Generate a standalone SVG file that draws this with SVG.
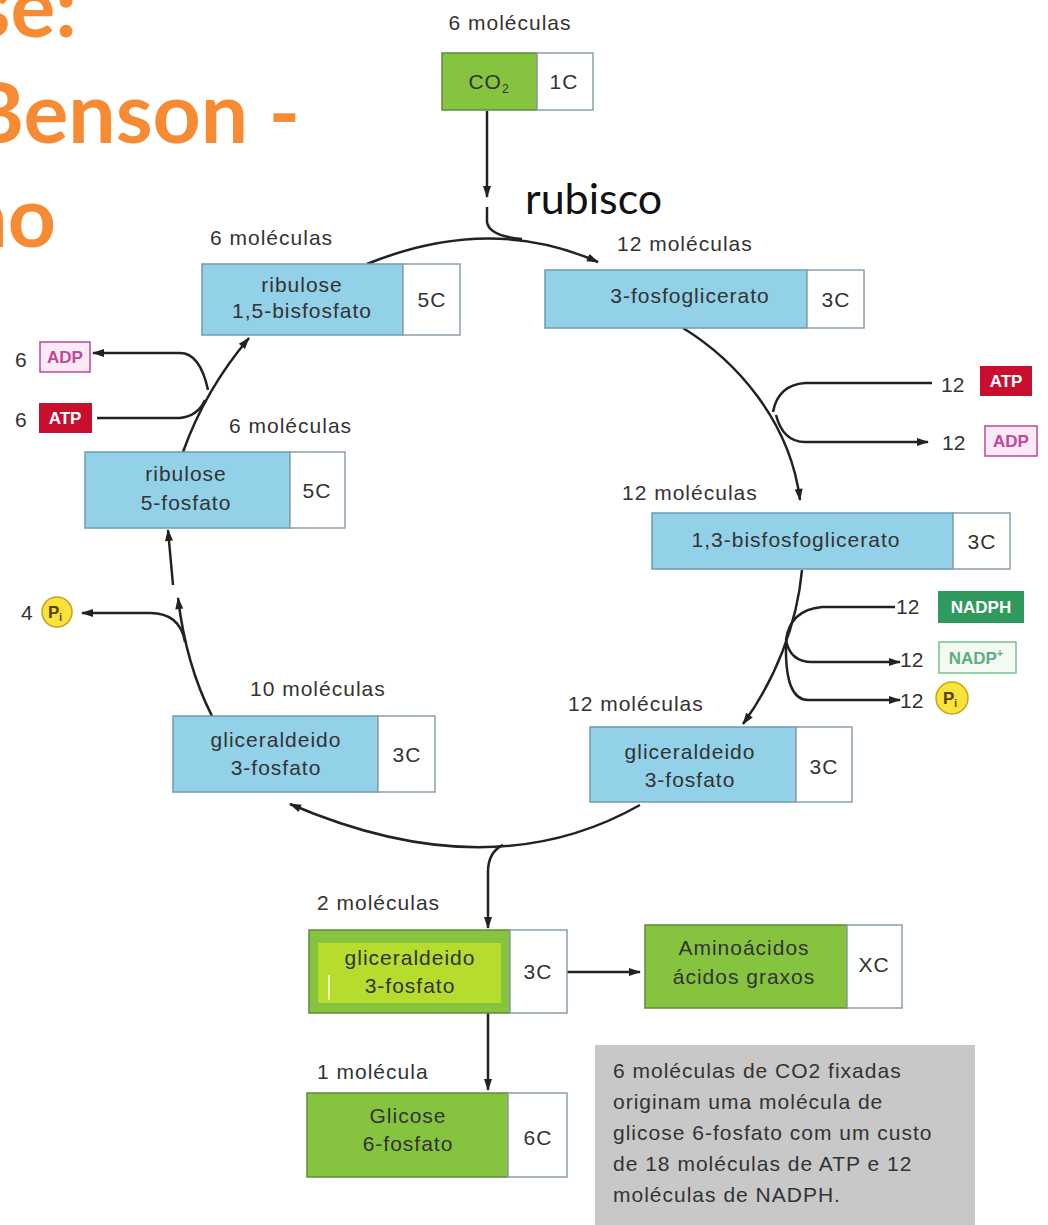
<svg xmlns="http://www.w3.org/2000/svg" width="1048" height="1225" viewBox="0 0 1048 1225">
<defs>
<style>
.t{font-family:"Liberation Sans",Arial,sans-serif;font-size:21px;fill:#333;letter-spacing:1px}
.c{text-anchor:middle}
.title{font-family:Lato,"Open Sans",sans-serif;font-weight:bold;font-size:84px;fill:#F68B33;text-anchor:end}
.blue{fill:#92d1e8;stroke:#6a9db2;stroke-width:1.5}
.green{fill:#86c440;stroke:#5e8c37;stroke-width:1.5}
.white{fill:#fff;stroke:#8aa0aa;stroke-width:1.5}
.ln{fill:none;stroke:#222;stroke-width:2.5}
.arr{marker-end:url(#ah)}
.tag{font-family:"Liberation Sans",Arial,sans-serif;font-weight:bold;font-size:17px;text-anchor:middle}
.pi{fill:#f7e33a;stroke:#c9a31a;stroke-width:1.5}
.n{font-family:"Liberation Sans",Arial,sans-serif;font-size:21px;fill:#333}
</style>
<marker id="ah" viewBox="0 0 12 10" refX="11" refY="5" markerWidth="13" markerHeight="10" markerUnits="userSpaceOnUse" orient="auto">
<path d="M0,1 L12,5 L0,9 z" fill="#222"/>
</marker>
</defs>
<rect width="1048" height="1225" fill="#fff"/>

<g id="title">
<text class="title" x="77" y="37">se:</text>
<text class="title" x="300" y="143">Benson -</text>
<text class="title" x="56" y="247">no</text>
</g>
<text id="rubisco" x="525" y="214" font-family="Lato,'Open Sans',sans-serif" font-size="43" fill="#111">rubisco</text>

<g id="connectors">
<path class="ln arr" d="M487,111 L487,197"/>
<path class="ln" d="M487,207 L487,222 Q489,236 522,239"/>
<path class="ln arr" d="M367,264 Q490,214 598,262"/>
<path class="ln arr" d="M683,328 C735,360 790,420 800,500"/>
<path class="ln" d="M932,383 L805,383 Q778,385 773,412"/>
<path class="ln arr" d="M776,415 Q783,442 805,442 L928,442"/>
<path class="ln arr" d="M802,570 C797,625 775,680 743,724"/>
<path class="ln" d="M895,607 L822,607 Q790,610 786,640"/>
<path class="ln arr" d="M786,640 Q790,662 812,662 L900,662"/>
<path class="ln arr" d="M786,645 Q785,700 808,700 L900,700"/>
<path class="ln arr" d="M640,805 Q490,890 290,804"/>
<path class="ln arr" d="M503,845 Q488,852 488,872 L488,928"/>
<path class="ln arr" d="M212,716 Q186,665 178,598"/>
<path class="ln arr" d="M173,585 L168,530"/>
<path class="ln arr" d="M185,642 Q180,613 150,613 L82,613"/>
<path class="ln arr" d="M183,452 Q205,390 249,338"/>
<path class="ln arr" d="M208,390 Q200,353 180,353 L93,353"/>
<path class="ln" d="M97,418 L180,418 Q198,416 205,400"/>
<path class="ln arr" d="M488,1013 L488,1090"/>
<path class="ln arr" d="M567,972 L640,972"/>
</g>

<g id="co2">
<text class="t c" x="510" y="30">6 moléculas</text>
<rect class="green" x="442" y="53" width="95" height="57"/>
<rect class="white" x="537" y="53" width="56" height="57"/>
<text class="t c" x="489" y="89" font-size="18">CO<tspan font-size="12" dy="4">2</tspan></text>
<text class="t c" x="564" y="89" font-size="18">1C</text>
</g>

<g id="rubp">
<text class="t" x="210" y="245">6 moléculas</text>
<rect class="blue" x="202" y="264" width="201" height="71"/>
<rect class="white" x="403" y="264" width="57" height="71"/>
<text class="t c" x="302" y="292">ribulose</text>
<text class="t c" x="302" y="318">1,5-bisfosfato</text>
<text class="t c" x="432" y="307" font-size="19">5C</text>
</g>

<g id="pga">
<text class="t" x="617" y="251">12 moléculas</text>
<rect class="blue" x="545" y="270" width="262" height="58"/>
<rect class="white" x="807" y="270" width="57" height="58"/>
<text class="t c" x="690" y="303">3-fosfoglicerato</text>
<text class="t c" x="836" y="307" font-size="19">3C</text>
</g>

<g id="ru5p">
<text class="t" x="229" y="433">6 moléculas</text>
<rect class="blue" x="85" y="452" width="205" height="76"/>
<rect class="white" x="290" y="452" width="55" height="76"/>
<text class="t c" x="186" y="481">ribulose</text>
<text class="t c" x="186" y="510">5-fosfato</text>
<text class="t c" x="317" y="498" font-size="19">5C</text>
</g>

<g id="bpg">
<text class="t" x="622" y="500">12 moléculas</text>
<rect class="blue" x="652" y="513" width="301" height="56"/>
<rect class="white" x="953" y="513" width="57" height="56"/>
<text class="t c" x="796" y="547">1,3-bisfosfoglicerato</text>
<text class="t c" x="982" y="549" font-size="19">3C</text>
</g>

<g id="g3p-left">
<text class="t" x="250" y="696">10 moléculas</text>
<rect class="blue" x="173" y="716" width="205" height="76"/>
<rect class="white" x="378" y="716" width="57" height="76"/>
<text class="t c" x="276" y="747">gliceraldeido</text>
<text class="t c" x="276" y="775">3-fosfato</text>
<text class="t c" x="407" y="762" font-size="19">3C</text>
</g>

<g id="g3p-right">
<text class="t" x="568" y="711">12 moléculas</text>
<rect class="blue" x="590" y="727" width="206" height="75"/>
<rect class="white" x="796" y="727" width="56" height="75"/>
<text class="t c" x="690" y="759">gliceraldeido</text>
<text class="t c" x="690" y="787">3-fosfato</text>
<text class="t c" x="824" y="774" font-size="19">3C</text>
</g>

<g id="g3p-out">
<text class="t" x="317" y="910">2 moléculas</text>
<rect class="green" x="309" y="930" width="201" height="83"/>
<rect x="318" y="943" width="183" height="60" fill="#b6dc2e"/>
<line x1="329" y1="975" x2="329" y2="1000" stroke="#f0f6b0" stroke-width="2"/>
<rect class="white" x="510" y="930" width="57" height="83"/>
<text class="t c" x="410" y="965">gliceraldeido</text>
<text class="t c" x="410" y="993">3-fosfato</text>
<text class="t c" x="538" y="979" font-size="19">3C</text>
</g>

<g id="amino">
<rect class="green" x="645" y="925" width="202" height="83"/>
<rect class="white" x="847" y="925" width="55" height="83"/>
<text class="t c" x="744" y="955">Aminoácidos</text>
<text class="t c" x="744" y="984">ácidos graxos</text>
<text class="t c" x="874" y="972" font-size="20">XC</text>
</g>

<g id="glicose">
<text class="t" x="317" y="1079">1 molécula</text>
<rect class="green" x="307" y="1093" width="201" height="84"/>
<rect class="white" x="508" y="1093" width="59" height="84"/>
<text class="t c" x="408" y="1123">Glicose</text>
<text class="t c" x="408" y="1151">6-fosfato</text>
<text class="t c" x="538" y="1145" font-size="20">6C</text>
</g>

<g id="note">
<rect x="595" y="1045" width="380" height="185" fill="#c8c8c8"/>
<text class="t" x="613" y="1078" font-size="19">6 moléculas de CO2 fixadas</text>
<text class="t" x="613" y="1109" font-size="19">originam uma molécula de</text>
<text class="t" x="613" y="1140" font-size="19">glicose 6-fosfato com um custo</text>
<text class="t" x="613" y="1171" font-size="19">de 18 moléculas de ATP e 12</text>
<text class="t" x="613" y="1202" font-size="19">moléculas de NADPH.</text>
</g>

<g id="adp-left">
<text class="n" x="15" y="367">6</text>
<rect x="40" y="342" width="50" height="30" fill="#fbeaf5" stroke="#c0479a" stroke-width="1.5"/>
<text class="tag" x="65" y="363" fill="#c0479a">ADP</text>
</g>
<g id="atp-left">
<text class="n" x="15" y="427">6</text>
<rect x="39" y="403" width="53" height="30" fill="#c8102e"/>
<text class="tag" x="65" y="424" fill="#fff">ATP</text>
</g>
<g id="pi-left">
<text class="n" x="21" y="620">4</text>
<circle class="pi" cx="57" cy="612" r="15"/>
<text class="tag" x="55" y="618" fill="#5a4000" font-size="16">P<tspan font-size="10" dy="3">i</tspan></text>
</g>

<g id="atp-right">
<text class="n" x="941" y="392">12</text>
<rect x="980" y="366" width="52" height="30" fill="#c8102e"/>
<text class="tag" x="1006" y="387" fill="#fff">ATP</text>
</g>
<g id="adp-right">
<text class="n" x="942" y="450">12</text>
<rect x="985" y="426" width="52" height="30" fill="#fbeaf5" stroke="#c0479a" stroke-width="1.5"/>
<text class="tag" x="1011" y="447" fill="#c0479a">ADP</text>
</g>
<g id="nadph">
<text class="n" x="896" y="614">12</text>
<rect x="938" y="591" width="86" height="32" fill="#2f9a5e"/>
<text class="tag" x="981" y="613" fill="#fff">NADPH</text>
</g>
<g id="nadp">
<text class="n" x="900" y="667">12</text>
<rect x="939" y="642" width="77" height="31" fill="#f2faf2" stroke="#7cbf92" stroke-width="1.5"/>
<text class="tag" x="976" y="664" fill="#5fae7e">NADP<tspan font-size="11" dy="-7">+</tspan></text>
</g>
<g id="pi-right">
<text class="n" x="900" y="708">12</text>
<circle class="pi" cx="952" cy="698" r="16"/>
<text class="tag" x="950" y="704" fill="#5a4000" font-size="16">P<tspan font-size="10" dy="3">i</tspan></text>
</g>
</svg>
